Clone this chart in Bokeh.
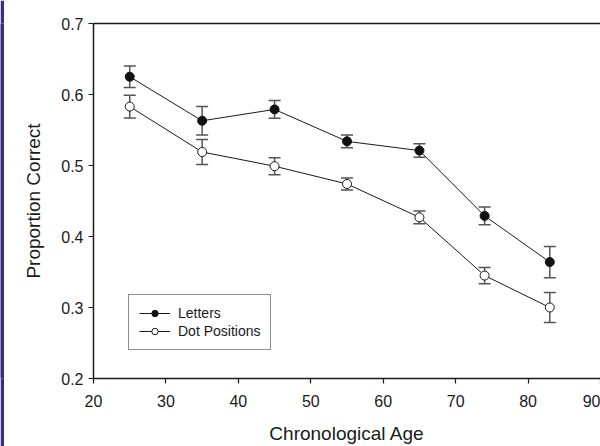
from bokeh.plotting import figure
from bokeh.layouts import row
from bokeh.models import (ColumnDataSource, Whisker, TeeHead, LinearAxis,
                          Range1d, FixedTicker)
from bokeh.embed import file_html
from bokeh.resources import INLINE

ages = [25, 35, 45, 55, 65, 74, 83]
letters = [0.625, 0.563, 0.579, 0.534, 0.521, 0.429, 0.364]
letters_err = [0.015, 0.020, 0.0125, 0.009, 0.0095, 0.0125, 0.022]
dots = [0.583, 0.519, 0.499, 0.474, 0.427, 0.345, 0.300]
dots_err = [0.016, 0.0175, 0.012, 0.0085, 0.009, 0.0115, 0.021]
x_ticks = [20, 30, 40, 50, 60, 70, 80, 90]
y_ticks = [0.2, 0.3, 0.4, 0.5, 0.6, 0.7]

FONT = "Liberation Sans"
INK = "#1a1a1a"

# thin slide-edge strip at the left of the picture
strip = figure(width=4, height=446, output_backend="svg", toolbar_location=None,
               min_border=0, x_range=Range1d(0, 1), y_range=Range1d(0, 1))
strip.axis.visible = False
strip.grid.visible = False
strip.outline_line_color = None
strip.background_fill_color = "#3b2d7e"
strip.border_fill_color = "#3b2d7e"

p = figure(width=596, height=446, x_range=Range1d(20, 90), y_range=Range1d(0.2, 0.7),
           output_backend="svg", toolbar_location=None,
           min_border_left=89, min_border_right=0, min_border_top=23, min_border_bottom=65)
p.outline_line_color = None
p.xgrid.visible = False
p.ygrid.visible = False
p.background_fill_color = "white"
p.border_fill_color = "white"

for ax in (p.xaxis[0], p.yaxis[0]):
    ax.axis_line_color = INK
    ax.axis_line_width = 1.5
    ax.major_tick_line_color = INK
    ax.major_tick_line_width = 1.2
    ax.major_tick_in = 0
    ax.major_tick_out = 5
    ax.minor_tick_line_color = None
    ax.major_label_text_font = FONT
    ax.major_label_text_font_size = "16px"
    ax.major_label_text_color = INK
    ax.axis_label_text_font = FONT
    ax.axis_label_text_font_size = "19px"
    ax.axis_label_text_font_style = "normal"
    ax.axis_label_text_color = INK

p.xaxis.ticker = FixedTicker(ticks=x_ticks)
p.yaxis.ticker = FixedTicker(ticks=y_ticks)
p.xaxis.axis_label = "Chronological Age"
p.yaxis.axis_label = "Proportion Correct"
p.xaxis.major_label_standoff = 11
p.xaxis.axis_label_standoff = 13
p.yaxis.major_label_standoff = 5
p.yaxis.axis_label_standoff = 14

top = LinearAxis(ticker=FixedTicker(ticks=[]), axis_line_color=INK, axis_line_width=1.5,
                 major_tick_out=0, major_tick_in=0, minor_tick_line_color=None,
                 major_label_text_font_size="0px", major_label_standoff=0)
p.add_layout(top, "above")

src_l = ColumnDataSource(dict(x=ages, y=letters,
                              up=[v + e for v, e in zip(letters, letters_err)],
                              lo=[v - e for v, e in zip(letters, letters_err)]))
src_d = ColumnDataSource(dict(x=ages, y=dots,
                              up=[v + e for v, e in zip(dots, dots_err)],
                              lo=[v - e for v, e in zip(dots, dots_err)]))

for src in (src_l, src_d):
    w = Whisker(source=src, base="x", upper="up", lower="lo", level="underlay",
                line_color="#555555", line_width=1.5,
                upper_head=TeeHead(size=12, line_color="#555555", line_width=1.5),
                lower_head=TeeHead(size=12, line_color="#555555", line_width=1.5))
    p.add_layout(w)

p.line("x", "y", source=src_l, line_color=INK, line_width=1, legend_label="Letters")
p.scatter("x", "y", source=src_l, size=9, fill_color="#111111", line_color="#111111",
          legend_label="Letters")
p.line("x", "y", source=src_d, line_color=INK, line_width=1, legend_label="Dot Positions")
p.scatter("x", "y", source=src_d, size=9, fill_color="white", line_color=INK,
          line_width=1, legend_label="Dot Positions")

lg = p.legend[0]
lg.location = (35, 28)
lg.label_text_font = FONT
lg.label_text_font_size = "14px"
lg.label_text_color = INK
lg.border_line_color = "#222222"
lg.border_line_width = 1
lg.background_fill_color = "white"
lg.glyph_width = 31
lg.glyph_height = 16
lg.label_height = 16
lg.padding = 10
lg.spacing = 2
lg.label_standoff = 8
lg.margin = 0

layout = row(strip, p, spacing=0)
open("out.html", "w").write(file_html(layout, INLINE))
